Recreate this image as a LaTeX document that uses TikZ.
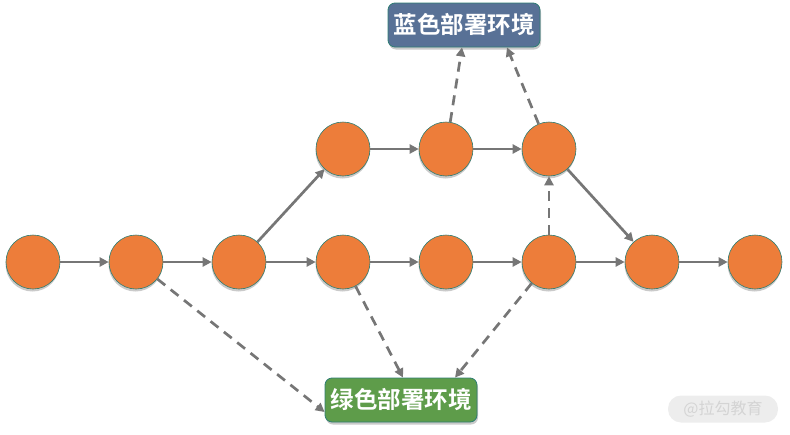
\documentclass[tikz,border=0pt]{standalone}
\usepackage{fontspec}
\newfontfamily\cjk{Noto Sans CJK SC}
\newfontfamily\cjkb{Noto Sans CJK SC Bold}
\usetikzlibrary{shadows,arrows.meta}
\definecolor{orng}{HTML}{ED7D3A}
\definecolor{teal1}{HTML}{2E7D73}
\definecolor{bluebox}{HTML}{587196}
\definecolor{greenbox}{HTML}{5E9C4A}
\definecolor{edgegray}{HTML}{767676}
\tikzset{
  x=1pt, y=-1pt,
  vtx/.style={circle, minimum size=54pt, inner sep=0pt, fill=orng, draw=teal1, line width=0.6pt,
     drop shadow={shadow xshift=-0.5pt, shadow yshift=-2.5pt, opacity=0.35, fill=black!60}},
  envbox/.style={rounded corners=7pt, draw=teal1, line width=0.8pt, text=white, font=\cjkb\fontsize{23.5}{26}\selectfont,
     minimum width=152pt, minimum height=44pt, inner sep=0pt,
     drop shadow={shadow xshift=1pt, shadow yshift=-2.5pt, opacity=0.35, fill=black!60}},
  solidarr/.style={draw=edgegray, line width=2.7pt, -{Triangle[length=9pt,width=9pt]}},
  dasharr/.style={solidarr, dash pattern=on 10pt off 7pt},
}
\begin{document}
\begin{tikzpicture}
\useasboundingbox (0,0) rectangle (790,434);
% bottom row
\foreach \i/\x in {1/33,2/136,3/239,4/343,5/446,6/549,7/652,8/755}
  \node[vtx] (b\i) at (\x,262) {};
% top row
\node[vtx] (t1) at (343,149) {};
\node[vtx] (t2) at (446,149) {};
\node[vtx] (t3) at (549,149) {};
% boxes
\node[envbox, fill=bluebox] (blue) at (464,25) {蓝色部署环境};
\node[envbox, fill=greenbox] (green) at (401,400) {绿色部署环境};
% watermark
\node[rounded corners=13pt, fill=black!7, text=black!17, minimum width=110pt, minimum height=27pt,
  inner sep=0pt, font=\cjk\fontsize{16}{18}\selectfont] (wm) at (723,409) {@拉勾教育};
% solid edges
\draw[solidarr] (b1) -- (b2);
\draw[solidarr] (b2) -- (b3);
\draw[solidarr] (b3) -- (b4);
\draw[solidarr] (b4) -- (b5);
\draw[solidarr] (b5) -- (b6);
\draw[solidarr] (b6) -- (b7);
\draw[solidarr] (b7) -- (b8);
\draw[solidarr] (b3) -- (t1);
\draw[solidarr] (t1) -- (t2);
\draw[solidarr] (t2) -- (t3);
\draw[solidarr] (t3) -- (b7);
% dashed edges
\draw[dasharr] (b6) -- (t3);
\draw[dasharr] (t2) -- (blue.south -| 462,0);
\draw[dasharr] (t3) -- (blue.south -| 507,0);
\draw[dasharr] (b2) -- (green.west |- 0,412);
\draw[dasharr] (b4) -- (green.north -| 403,0);
\draw[dasharr] (b6) -- (green.north -| 455,0);
\end{tikzpicture}
\end{document}
